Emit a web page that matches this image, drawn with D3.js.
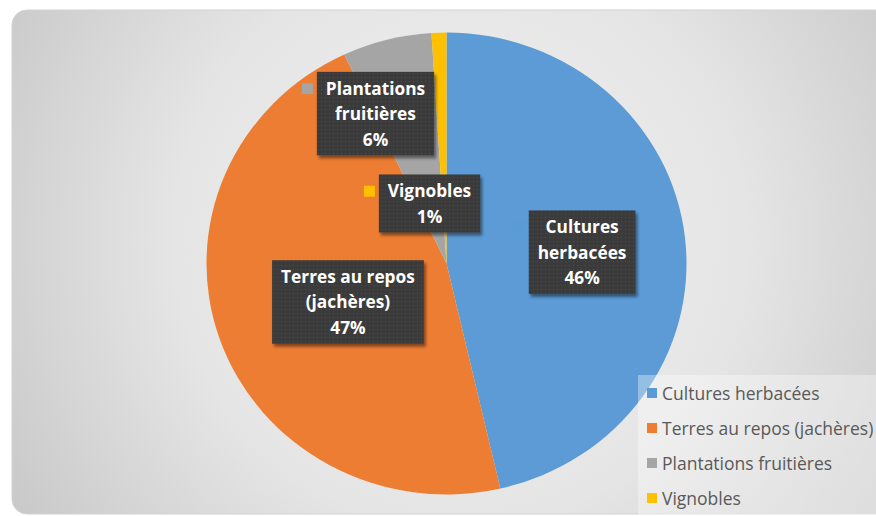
<!DOCTYPE html>
<html lang="fr">
<head>
<meta charset="UTF-8">
<title>Répartition des surfaces</title>
<script src="https://d3js.org/d3.v7.min.js"></script>
<style>
    body { margin: 0; background: #fff; }
    svg { display: block; }
</style>
</head>
<body>
<div id="chart"></div>
<script>
    // data
    var categories = ["Cultures herbacées", "Terres au repos (jachères)", "Plantations fruitières", "Vignobles"];
    var values = [46.4, 46.6, 6.0, 1.0];
    var labelLines = [["Cultures", "herbacées"], ["Terres au repos", "(jachères)"], ["Plantations", "fruitières"], ["Vignobles"]];
    var colors = ["#5b9bd5", "#ed7d31", "#a5a5a5", "#ffc000"];

    // where each label sits: fraction of the radius + nudge in px
    var labelPlace = [[0.51, 14, 2], [0.43, -1, 6], [0.67, -31, 0], [0.26, -15, 0]];

    var width = 876, height = 516;
    var cx = 446.5, cy = 263.5, rx = 240, ry = 231;

    var svg = d3.select("#chart").append("svg")
        .attr("width", width)
        .attr("height", height);

    var defs = svg.append("defs");

    var bg = defs.append("radialGradient")
        .attr("id", "bgGrad")
        .attr("gradientUnits", "userSpaceOnUse")
        .attr("cx", 460).attr("cy", 240).attr("r", 520);
    bg.append("stop").attr("offset", "0").attr("stop-color", "#f1f1f1");
    bg.append("stop").attr("offset", "0.55").attr("stop-color", "#e5e5e5");
    bg.append("stop").attr("offset", "1").attr("stop-color", "#c9c9c9");

    var pat = defs.append("pattern")
        .attr("id", "dots")
        .attr("width", 4).attr("height", 4)
        .attr("patternUnits", "userSpaceOnUse");
    pat.append("rect").attr("width", 4).attr("height", 4).attr("fill", "#3b3b3b");
    pat.append("rect").attr("x", 1).attr("y", 1).attr("width", 1).attr("height", 1).attr("fill", "#4d4d4d");

    var shadow = defs.append("filter").attr("id", "shadow")
        .attr("x", "-20%").attr("y", "-20%").attr("width", "140%").attr("height", "140%");
    shadow.append("feDropShadow")
        .attr("dx", 2).attr("dy", 3).attr("stdDeviation", 1.8)
        .attr("flood-color", "#000").attr("flood-opacity", 0.45);

    var glow = defs.append("filter").attr("id", "glow")
        .attr("x", "-10%").attr("y", "-10%").attr("width", "120%").attr("height", "120%");
    glow.append("feGaussianBlur").attr("stdDeviation", 0.6);

    // chart area
    svg.append("rect")
        .attr("x", 12).attr("y", 10)
        .attr("width", 880).attr("height", 504)
        .attr("rx", 15)
        .attr("fill", "url(#bgGrad)")
        .attr("stroke", "#d2d2d2")
        .attr("stroke-width", 1);

    // pie (slightly stretched horizontally)
    var pie = d3.pie().sort(null).value(function (d) { return d; });
    var arcs = pie(values);
    var arc = d3.arc().innerRadius(0).outerRadius(ry);

    var g = svg.append("g")
        .attr("transform", "translate(" + cx + "," + cy + ") scale(" + (rx / ry) + ",1)");

    g.selectAll("path.slice")
        .data(arcs)
        .enter().append("path")
        .attr("class", "slice")
        .attr("d", arc)
        .attr("fill", function (d, i) { return colors[i]; })
        .attr("filter", "url(#glow)");

    // data labels
    var fmt = d3.format(".0%");
    var lineH = 25.5;

    arcs.forEach(function (d, i) {
        var mid = (d.startAngle + d.endAngle) / 2;
        var p = labelPlace[i];
        var lx = cx + rx * p[0] * Math.sin(mid) + p[1];
        var ly = cy - ry * p[0] * Math.cos(mid) + p[2];

        var lines = labelLines[i].concat([fmt(values[i] / 100)]);
        var lg = svg.append("g").attr("class", "label");
        var box = lg.append("rect")
            .attr("fill", "url(#dots)")
            .attr("filter", "url(#shadow)");

        var txt = lg.append("text")
            .attr("text-anchor", "middle")
            .attr("font-family", "'Open Sans', sans-serif")
            .attr("font-weight", "bold")
            .attr("font-size", "17.3px")
            .attr("fill", "#ffffff");

        var top = ly - lineH * lines.length / 2;
        lines.forEach(function (s, k) {
            txt.append("tspan")
                .attr("x", lx)
                .attr("y", top + lineH * k + lineH / 2)
                .attr("dominant-baseline", "central")
                .text(s);
        });

        var bb = txt.node().getBBox();
        var bw = bb.width + 18, bh = lineH * lines.length + 7;
        box.attr("x", lx - bw / 2).attr("y", ly - bh / 2)
            .attr("width", bw).attr("height", bh);

        lg.append("rect")
            .attr("x", lx - bw / 2 - 15).attr("y", top + lineH / 2 - 5)
            .attr("width", 11).attr("height", 11)
            .attr("fill", colors[i]);
    });

    // legend
    var legend = svg.append("g").attr("class", "legend");
    legend.append("rect")
        .attr("x", 638).attr("y", 375)
        .attr("width", 250).attr("height", 150)
        .attr("fill", "#ffffff")
        .attr("fill-opacity", 0.35);

    var legY = d3.scalePoint().domain(categories).range([393, 498]);

    var items = legend.selectAll("g.item")
        .data(categories)
        .enter().append("g")
        .attr("class", "item")
        .attr("transform", function (d) { return "translate(647," + legY(d) + ")"; });

    items.append("rect")
        .attr("x", 0).attr("y", -5)
        .attr("width", 10).attr("height", 10)
        .attr("fill", function (d, i) { return colors[i]; });

    items.append("text")
        .attr("x", 15)
        .attr("dominant-baseline", "central")
        .attr("font-family", "'Open Sans', sans-serif")
        .attr("font-size", "17.5px")
        .attr("fill", "#595959")
        .text(function (d) { return d; });
</script>
</body>
</html>
